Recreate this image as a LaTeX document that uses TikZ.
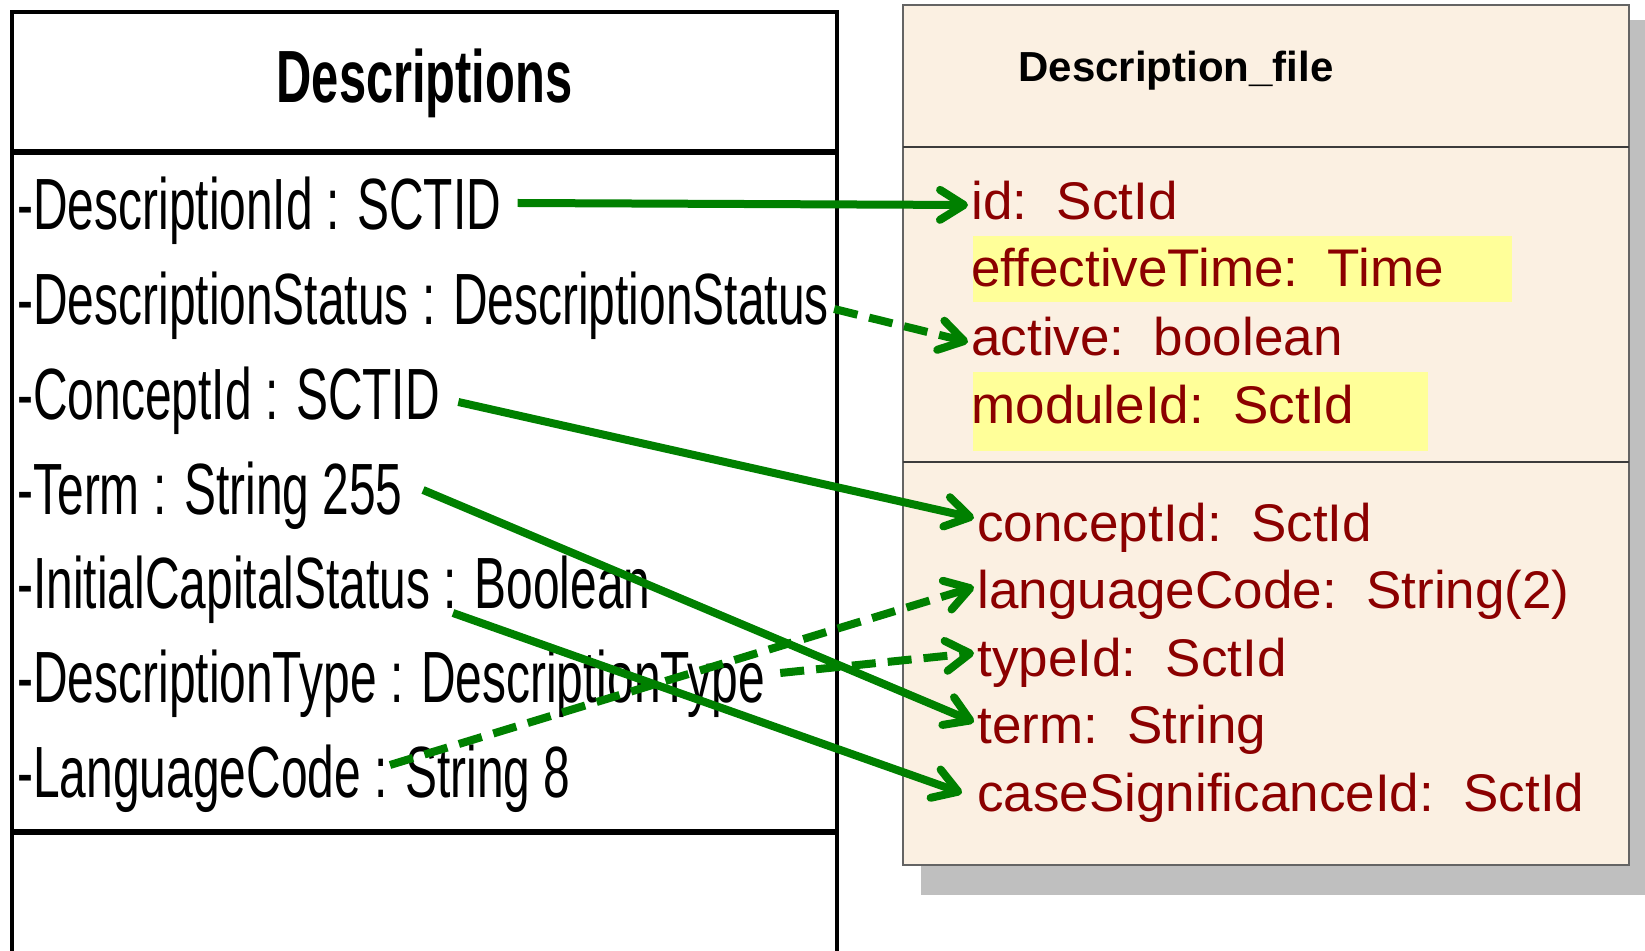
\documentclass[tikz,border=0pt]{standalone}
\usepackage{fontspec}
\setmainfont{Liberation Sans}
\newfontfamily\narrowfont[FakeStretch=0.66]{Liberation Sans}
\usetikzlibrary{arrows.meta}
\definecolor{linkgreen}{RGB}{0,128,0}
\definecolor{attrred}{RGB}{139,0,0}
\definecolor{cream}{RGB}{251,240,226}
\definecolor{hilite}{RGB}{255,255,153}
\definecolor{shadowgray}{RGB}{191,191,191}
\definecolor{boxgray}{RGB}{100,100,100}
\begin{document}
\begin{tikzpicture}[x=0.5pt,y=-0.5pt,
  leftattr/.style={anchor=base west, inner sep=0pt, font=\narrowfont\fontsize{36.3}{40}\selectfont},
  lefttitle/.style={anchor=base, inner sep=0pt, font=\narrowfont\bfseries\fontsize{37}{40}\selectfont},
  rightattr/.style={anchor=base west, inner sep=0pt, text=attrred, font=\fontsize{26.5}{30}\selectfont},
  righttitle/.style={anchor=base west, inner sep=0pt, font=\bfseries\fontsize{21}{24}\selectfont},
  link/.style={draw=linkgreen, line width=4pt, -{Straight Barb[length=12pt,width=15pt,round]}},
  dashedlink/.style={link, dash pattern=on 12pt off 6pt},
]
\useasboundingbox (0,0) rectangle (1645,951);
% right class box with shadow
\fill[shadowgray] (921,20) rectangle (1650,895);
\filldraw[fill=cream, draw=boxgray, line width=0.8pt] (903,5) rectangle (1629,865);
\draw[boxgray!60!black, line width=0.8pt] (903,147) -- (1629,147) (903,462) -- (1629,462);
\fill[hilite] (973,236) rectangle (1512,302);
\fill[hilite] (973,372) rectangle (1428,451);
% left class box
\draw[line width=2.4pt] (12,960) -- (12,12) -- (837,12) -- (837,960);
\draw[line width=2.8pt] (12,152) -- (837,152) (12,832) -- (837,832);
% left texts
\node[lefttitle] (desc) at (424.5,103) {Descriptions};
\node[leftattr] (d1) at (17,230) {-DescriptionId : SCTID};
\node[leftattr] (d2) at (17,325) {-DescriptionStatus : DescriptionStatus};
\node[leftattr] (d3) at (17,420) {-ConceptId : SCTID};
\node[leftattr] (d4) at (17,515) {-Term : String 255};
\node[leftattr] (d5) at (17,609) {-InitialCapitalStatus : Boolean};
\node[leftattr] (d6) at (17,703) {-DescriptionType : DescriptionType};
\node[leftattr] (d7) at (17,798) {-LanguageCode : String 8};
% right texts
\node[righttitle] (dfile) at (1018,82) {Description\_file};
\node[rightattr] (r1) at (971,220) {id:\ \ SctId};
\node[rightattr] (r2) at (971,287) {effectiveTime:\ \ Time};
\node[rightattr] (r3) at (971,356) {active:\ \ boolean};
\node[rightattr] (r4) at (971,424) {moduleId:\ \ SctId};
\node[rightattr] (r5) at (977,542) {conceptId:\ \ SctId};
\node[rightattr] (r6) at (977,609) {languageCode:\ \ String(2)};
\node[rightattr] (r7) at (977,677) {typeId:\ \ SctId};
\node[rightattr] (r8) at (977,744) {term:\ \ String};
\node[rightattr] (r9) at (977,812) {caseSignificanceId:\ \ SctId};
% connectors
\draw[link] ([shift={(16,-27)}]d1.base east) -- ([shift={(-3,-15)}]r1.base west);
\draw[dashedlink] ([shift={(5,-16)}]d2.base east) -- ([shift={(-3,-14)}]r3.base west);
\draw[link] ([shift={(18,-18)}]d3.base east) -- ([shift={(-3,-24)}]r5.base west);
\draw[link] ([shift={(20,-25)}]d4.base east) -- ([shift={(-3,-22)}]r8.base west);
\draw[link] ([shift={(436,4)}]d5.base west) -- ([shift={(-15,-19)}]r9.base west);
\draw[dashedlink] ([shift={(15,-30)}]d6.base east) -- ([shift={(-3,-24)}]r7.base west);
\draw[dashedlink] ([shift={(373,-33)}]d7.base west) -- ([shift={(-3,-22)}]r6.base west);
\end{tikzpicture}
\end{document}
